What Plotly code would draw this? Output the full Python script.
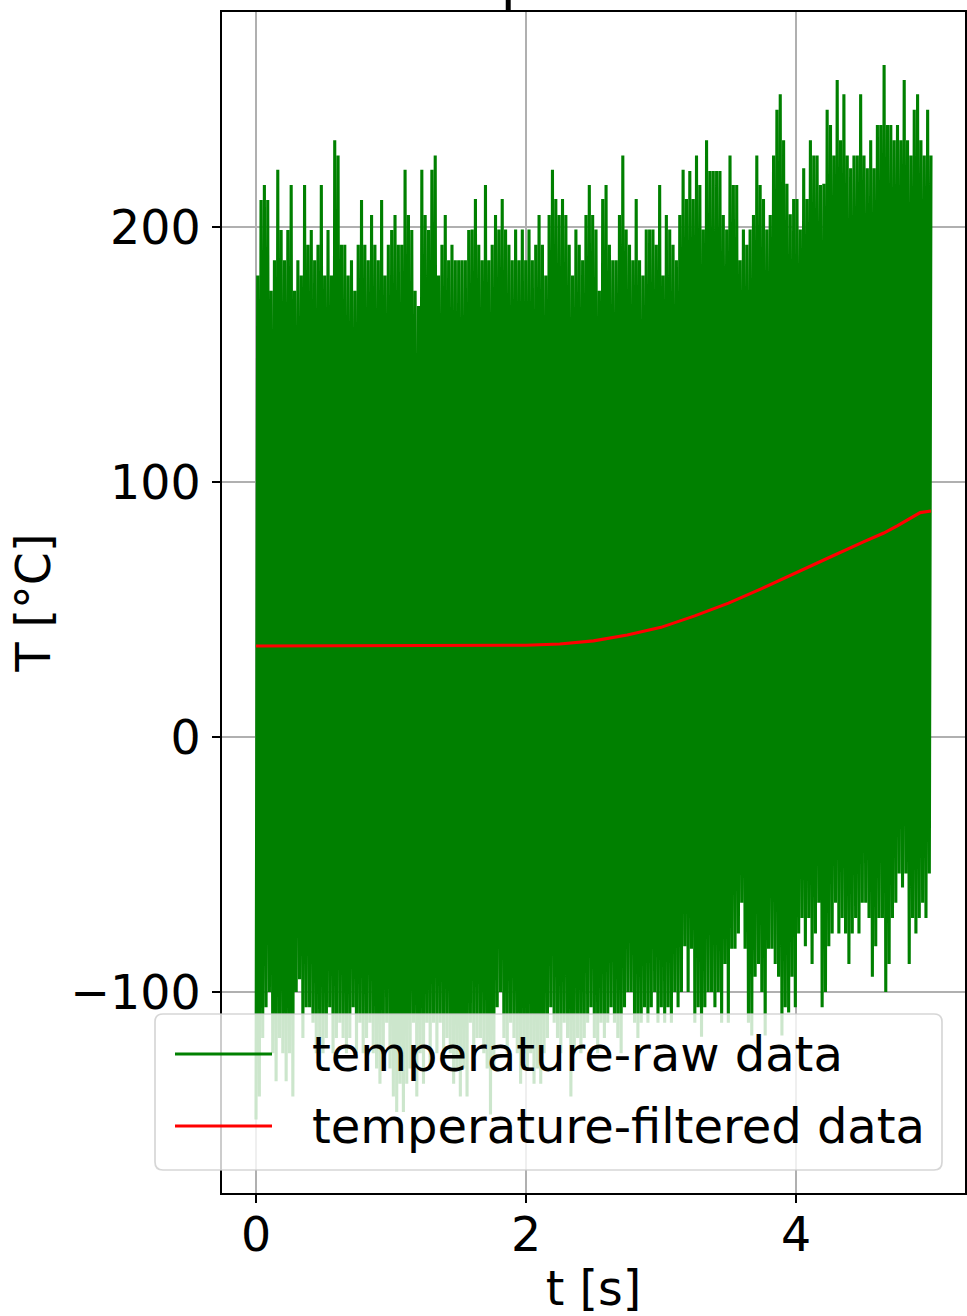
import numpy as np
import plotly.graph_objects as go

# ---------------- data ----------------
# upper peaks of the raw signal, in time order (°C)
raw_high_a = [181, 210.6, 216.5, 210.6, 175, 187, 222.4, 198.8, 187, 198.8, 216.5, 175, 187, 181,
              216.5, 193, 198.8, 187, 193, 216.5, 181, 198.8, 181, 234, 228, 193, 193, 181, 187, 175,
              193, 210.6, 193, 187, 204.7, 193, 187, 210.6, 181, 193, 198.8, 204.7, 193, 193, 222.4,
              204.7, 198.8, 175, 169, 222.4, 204.7, 198.8, 222.4, 228, 181, 193, 204.7, 187, 193,
              187, 187, 187, 187, 198.8]
raw_high_b = [199, 211, 193, 187, 216.5, 187, 193, 204.7, 199, 211, 199, 193, 187, 199, 187, 199, 187,
              199, 187, 193, 204.7, 193, 181, 204.7, 222.4, 211, 204.7, 211, 204.7, 193, 181, 199,
              193, 187, 204.7, 216.5, 204.7, 199, 175, 211, 216.5, 193, 187, 187, 204.7, 228, 199,
              193, 187, 211, 187, 181, 199, 199, 199, 193, 216.5, 181, 204.7, 199, 193, 187, 204.7,
              222.4, 211]
raw_high_c = [222, 211, 228, 216.5, 199, 234, 222, 222, 222, 222, 204.7, 199, 228, 216.5, 216.5, 187,
              199, 193, 199, 204.7, 228, 216.5, 211, 199, 204.7, 228, 246, 252, 234, 217, 205, 211,
              211, 199, 223, 211, 234, 228, 228, 216.5, 217, 246, 240, 228, 257.6, 234, 252, 228,
              223, 228, 228, 252, 228, 223, 234, 223, 240, 240, 263.5, 240, 240, 234, 240, 234,
              257.6, 234, 228, 246, 252, 234, 228, 246, 228]

# lower troughs of the raw signal, in time order (°C)
raw_low_a = [-150, -141, -118, -106, -100, -124, -135, -118, -124, -135, -124, -141, -100, -95, -118,
             -106, -106, -112, -124, -118, -124, -118, -106, -124, -118, -112, -118, -124, -118,
             -106, -124, -112, -124, -118, -112, -124, -130, -136, -124, -112, -130, -141, -147,
             -136, -147, -136, -130, -112, -141, -124, -136, -112, -130, -112, -124, -112, -124,
             -118, -124, -136, -130, -141, -130, -141, -112, -124, -118]
raw_low_b = [-118, -124, -130, -148, -130, -106, -100, -118, -124, -112, -118, -124, -136, -124, -130,
             -124, -136, -130, -136, -124, -118, -106, -112, -118, -124, -112, -118, -141, -124,
             -118, -124, -118, -112, -106, -118, -124, -112, -118, -112, -106, -112, -118, -124,
             -106, -100, -100, -112, -118, -112, -106, -112, -106, -100, -112, -106, -112, -106,
             -112, -100, -106, -100, -82, -100, -83, -112]
raw_low_c = [-106, -117.5, -106, -100, -100, -106, -100, -112, -89, -112, -83, -83, -77, -65, -83, -112,
             -117, -94, -89, -100, -117, -83, -83, -89, -94, -117, -106, -108, -94, -106, -77, -71,
             -82, -71, -89, -77, -65, -106, -100, -82, -77, -65, -77, -71, -77, -89, -77, -71, -77,
             -65, -65, -71, -94, -82, -71, -71, -100, -89, -71, -65, -53.5, -59, -53.5, -89, -71,
             -77, -71, -65, -71, -53.5]

# filtered signal
filt_t = [0, 0.5, 1.0, 1.5, 2.0, 2.25, 2.5, 2.75, 3.0, 3.25, 3.5, 3.75, 4.0, 4.25, 4.5, 4.65, 4.75,
          4.85, 4.92, 5.0]
filt_v = [35.7, 35.7, 35.7, 35.8, 36.0, 36.5, 37.7, 40.0, 43.0, 47.5, 52.5, 58.3, 64.5, 70.5, 76.5,
          80.0, 82.8, 86.0, 88.0, 88.6]

t_start, t_end = 0.0, 5.0
x_ticks = [0, 2, 4]
y_ticks = [-100, 0, 100, 200]

# ---------------- build raw series (troughs and peaks alternate) ----------------
raw_high = raw_high_a + raw_high_b + raw_high_c
raw_low = raw_low_a + raw_low_b + raw_low_c
n = min(len(raw_high), len(raw_low))
raw_v = np.empty(2 * n)
raw_v[0::2] = raw_low[:n]
raw_v[1::2] = raw_high[:n]
raw_t = np.linspace(t_start, t_end, 2 * n)

# ---------------- layout geometry (pixels) ----------------
W, H = 967, 1316
PL, PR, PT, PB = 222, 965, 12, 1193
FONT = "DejaVu Sans"
FS = 47.5
FS_LEG = 48


def px2x(px):
    return (px - PL) / (PR - PL)


def py2y(py):
    return (PB - py) / (PB - PT)


fig = go.Figure()
fig.add_trace(go.Scatter(x=raw_t, y=raw_v, mode="lines", name="temperature-raw data",
                         line=dict(color="green", width=3.1), showlegend=False))
fig.add_trace(go.Scatter(x=filt_t, y=filt_v, mode="lines", name="temperature-filtered data",
                         line=dict(color="red", width=3.1), showlegend=False))

axis_common = dict(
    showgrid=True, gridcolor="#b0b0b0", gridwidth=1.7,
    showline=True, linecolor="black", linewidth=1.7, mirror=True,
    ticks="outside", ticklen=8, tickwidth=1.7, tickcolor="black",
    zeroline=False, tickfont=dict(family=FONT, size=FS, color="black"),
)

fig.update_layout(
    width=W, height=H,
    margin=dict(l=PL, r=W - PR, t=PT, b=H - PB, autoexpand=False),
    paper_bgcolor="white", plot_bgcolor="white",
    font=dict(family=FONT, size=FS, color="black"),
    showlegend=False,
    xaxis=dict(range=[-0.2519, 5.2519], tickvals=x_ticks, ticklabelstandoff=-9,
               title=dict(text="t [s]", font=dict(family=FONT, size=FS), standoff=27),
               automargin=False, **axis_common),
    yaxis=dict(range=[-178.8, 284.3], tickvals=y_ticks, ticklabelstandoff=2,
               title=dict(text="T [°C]", font=dict(family=FONT, size=FS), standoff=5),
               automargin=False, **axis_common),
)

# title (mostly outside the picture, as in the reference)
fig.add_annotation(text="Temperature", xref="paper", yref="paper", x=px2x(386), y=1.0,
                   xanchor="left", yanchor="bottom", yshift=-1, showarrow=False,
                   font=dict(family=FONT, size=55, color="black"))

# legend box with rounded corners
x0, x1, y0, y1, r = 155, 942, 1014, 1170, 8


def P(px, py):
    return f"{px2x(px):.5f},{py2y(py):.5f}"


path = (f"M{P(x0 + r, y0)} L{P(x1 - r, y0)} Q{P(x1, y0)} {P(x1, y0 + r)} "
        f"L{P(x1, y1 - r)} Q{P(x1, y1)} {P(x1 - r, y1)} L{P(x0 + r, y1)} "
        f"Q{P(x0, y1)} {P(x0, y1 - r)} L{P(x0, y0 + r)} Q{P(x0, y0)} {P(x0 + r, y0)} Z")
fig.add_shape(type="path", path=path, xref="paper", yref="paper", layer="above",
              fillcolor="rgba(255,255,255,0.8)", line=dict(color="rgba(204,204,204,0.8)", width=1.7))

legend_items = [("temperature-raw data", "green", 1054), ("temperature-filtered data", "red", 1126)]
for label, color, ly in legend_items:
    fig.add_shape(type="line", xref="paper", yref="paper", layer="above",
                  x0=px2x(175), x1=px2x(272), y0=py2y(ly), y1=py2y(ly),
                  line=dict(color=color, width=3.1))
    fig.add_annotation(text=label, xref="paper", yref="paper", x=px2x(310), y=py2y(ly),
                       xanchor="left", yanchor="middle", showarrow=False,
                       font=dict(family=FONT, size=FS_LEG, color="black"))

fig.write_html("out.html", config={"displayModeBar": False},
               post_script="document.body.style.margin='0';")
